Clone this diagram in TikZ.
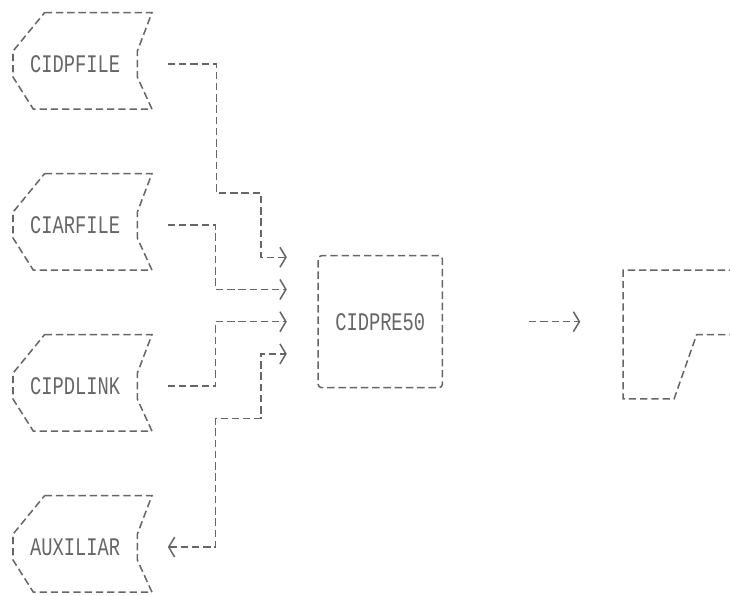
\documentclass[tikz,border=0pt]{standalone}
\usepackage{fontspec}
\setmonofont{Liberation Mono}[Numbers=SlashedZero]
\usepackage{graphicx}
\usetikzlibrary{arrows.meta,calc}
\definecolor{inkGray}{HTML}{666666}
\newcommand\tallcaps[1]{\scalebox{1}[1.35]{#1}}

\begin{document}
\begin{tikzpicture}[
  x=0.339cm,y=-0.966cm,
  every node/.style={font=\ttfamily\fontsize{16}{16}\selectfont,text=inkGray},
  stored/.style={inner sep=0pt},
  outline/.style={draw=inkGray,line width=1.3pt,dash pattern=on 6.3pt off 3.3pt},
  prog/.style={outline,rounded corners=3pt,minimum width=3.73cm,
    minimum height=3.96cm,inner sep=0pt},
  flow/.style={outline,-{Straight Barb[length=1.8mm,width=6mm]}},
  both/.style={outline,{Straight Barb[length=1.8mm,width=6mm]}-{Straight Barb[length=1.8mm,width=6mm]}}
]
  \useasboundingbox (-1.15,-1.99) rectangle (63.45,16.49);

  % files on the left
  \node[stored] (cidpfile) at (5.5,0) {\tallcaps{CIDPFILE}};
  \node[stored] (ciarfile) at (5.5,5) {\tallcaps{CIARFILE}};
  \node[stored] (cipdlink) at (5.5,10) {\tallcaps{CIPDLINK}};
  \node[stored] (auxiliar) at (5.5,15) {\tallcaps{AUXILIAR}};
  \foreach \f in {cidpfile,ciarfile,cipdlink,auxiliar}
    \draw[outline] ($(\f)+(-2.7,-1.6)$) -- ($(\f)+(6.8,-1.6)$)
      -- ($(\f)+(5.5,-0.4)$) -- ($(\f)+(5.5,0.4)$) -- ($(\f)+(6.8,1.4)$)
      -- ($(\f)+(-3.7,1.4)$) -- ($(\f)+(-5.5,0.4)$) -- ($(\f)+(-5.5,-0.4)$)
      -- cycle;

  % program and its output
  \node[prog] (cidpre) at (32.5,8) {\tallcaps{CIDPRE50}};
  \coordinate (report) at (54,8);
  \draw[outline] ($(report)+(11,-1.6)$) -- ($(report)+(0,-1.6)$)
    -- ($(report)+(0,2.4)$) -- ($(report)+(4.5,2.4)$)
    -- ($(report)+(6.5,0.4)$) -- ($(report)+(11,0.4)$);

  \draw[flow] ($(cidpfile)+(8.2,0)$) -| ($(cidpfile)+(12.5,4)$)
    -| ($(cidpre.west)+(-5,-2)$) -- ($(cidpre.west)+(-2.7,-2)$);
  \draw[flow] ($(ciarfile)+(8.2,0)$) -| ($(cidpre.west)+(-9,-1)$)
    -- ($(cidpre.west)+(-2.7,-1)$);
  \draw[flow] ($(cipdlink)+(8.2,0)$) -| ($(cidpre.west)+(-9,0)$)
    -- ($(cidpre.west)+(-2.7,0)$);
  \draw[both] ($(auxiliar)+(8.2,0)$) -| ($(cidpre.west)+(-9,3)$)
    -| ($(cidpre.west)+(-5,1)$) -- ($(cidpre.west)+(-2.7,1)$);
  \draw[flow] ($(cidpre.east)+(7.6,0)$) -- ($(report)+(-3.8,0)$);
\end{tikzpicture}
\end{document}
